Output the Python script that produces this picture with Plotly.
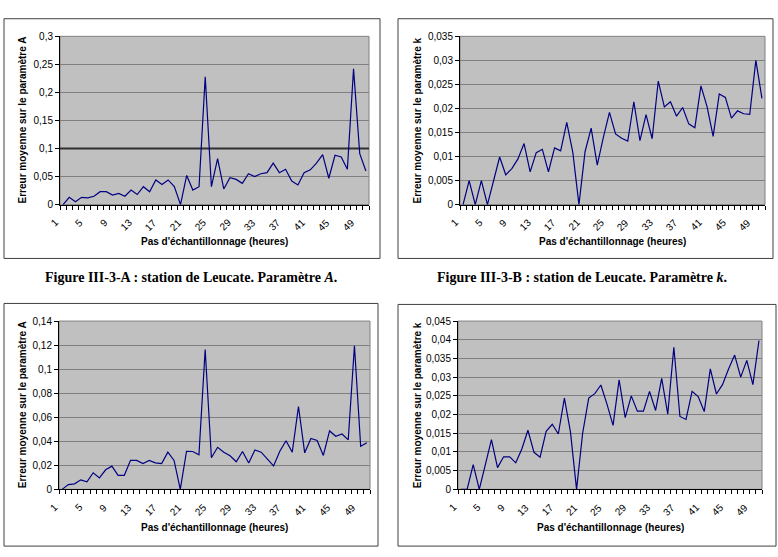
import plotly.graph_objects as go

W, H = 778, 557

# ---------------- data ----------------
steps = list(range(1, 51))  # Pas d'échantillonnage (heures)
x_tick_labels = [str(i) for i in range(1, 50, 4)]

err_A_leucate = [0, 0.013, 0.005, 0.013, 0.012, 0.015, 0.023, 0.023, 0.017, 0.02,
                 0.015, 0.026, 0.018, 0.032, 0.023, 0.044, 0.036, 0.044, 0.032, 0,
                 0.052, 0.026, 0.032, 0.228, 0.032, 0.082, 0.028, 0.048, 0.045, 0.038,
                 0.055, 0.05, 0.055, 0.057, 0.074, 0.057, 0.063, 0.042, 0.035, 0.057,
                 0.062, 0.074, 0.089, 0.047, 0.088, 0.085, 0.063, 0.242, 0.091, 0.06]

err_k_leucate = [0, 0.005, 0, 0.005, 0, 0.005, 0.0099, 0.0062, 0.0075, 0.0095,
                 0.0127, 0.0068, 0.0108, 0.0115, 0.0068, 0.0118, 0.0112, 0.0171, 0.0108, 0,
                 0.011, 0.0159, 0.0082, 0.014, 0.0192, 0.0147, 0.0138, 0.0132, 0.0214, 0.0133,
                 0.0187, 0.0137, 0.0257, 0.0203, 0.0214, 0.0184, 0.0202, 0.0168, 0.016, 0.0247,
                 0.0204, 0.0142, 0.023, 0.0223, 0.018, 0.0195, 0.0189, 0.0188, 0.03, 0.0221]

err_A_2 = [0, 0.004, 0.0046, 0.0079, 0.0062, 0.0138, 0.0095, 0.0163, 0.0193, 0.0117,
           0.0117, 0.0241, 0.0241, 0.0214, 0.0241, 0.022, 0.0214, 0.0309, 0.0241, 0,
           0.0317, 0.0315, 0.0288, 0.1164, 0.0263, 0.035, 0.0309, 0.028, 0.023, 0.0315,
           0.022, 0.0328, 0.0309, 0.0255, 0.0195, 0.0317, 0.0404, 0.0309, 0.0689, 0.0304,
           0.0423, 0.0407, 0.0282, 0.0486, 0.0442, 0.0461, 0.0412, 0.1194, 0.0358, 0.0388]

err_k_2 = [0, 0, 0.0066, 0, 0.0066, 0.0133, 0.0058, 0.0087, 0.0087, 0.0071,
           0.0108, 0.0158, 0.0099, 0.0086, 0.0155, 0.0174, 0.0148, 0.0244, 0.0153, 0,
           0.015, 0.0244, 0.0256, 0.0279, 0.0228, 0.0171, 0.0293, 0.0192, 0.025, 0.0209,
           0.0209, 0.0262, 0.0211, 0.0297, 0.0201, 0.038, 0.0195, 0.0187, 0.0262, 0.0248,
           0.0208, 0.0322, 0.0255, 0.028, 0.0322, 0.0359, 0.03, 0.0345, 0.028, 0.0398]

threshold_A = 0.1

y_ticks_A1 = [0, 0.05, 0.1, 0.15, 0.2, 0.25, 0.3]
y_ticks_k1 = [0, 0.005, 0.01, 0.015, 0.02, 0.025, 0.03, 0.035]
y_ticks_A2 = [0, 0.02, 0.04, 0.06, 0.08, 0.1, 0.12, 0.14]
y_ticks_k2 = [0, 0.005, 0.01, 0.015, 0.02, 0.025, 0.03, 0.035, 0.04, 0.045]

title_y_A = "Erreur moyenne sur le paramètre A"
title_y_k = "Erreur moyenne sur le paramètre k"
title_x = "Pas d'échantillonnage (heures)"
captions = ["Figure III-3-A : station de Leucate. Paramètre <i>A</i>.",
            "Figure III-3-B : station de Leucate. Paramètre <i>k</i>."]

# ---------------- layout helpers ----------------
def fx(px):
    return px / W

def fy(py):
    return 1 - py / H

def fmt(v):
    return ("%g" % v).replace(".", ",")

panels = [
    dict(pa=(60, 369, 31, 203), box=(4, 380, 13, 258), y=err_A_leucate, ticks=y_ticks_A1, yt=title_y_A, ytx=22, xty=241),
    dict(pa=(460, 765, 31, 203), box=(398, 773, 13, 258), y=err_k_leucate, ticks=y_ticks_k1, yt=title_y_k, ytx=417, xty=241),
    dict(pa=(59, 370, 322, 494), box=(4, 378, 304, 552), y=err_A_2, ticks=y_ticks_A2, yt=title_y_A, ytx=22, xty=533),
    dict(pa=(458, 762, 322, 494), box=(398, 776, 305, 552), y=err_k_2, ticks=y_ticks_k2, yt=title_y_k, ytx=417, xty=533),
]

FONT = "Liberation Sans, Arial, sans-serif"
fig = go.Figure()
shapes = []
annotations = []
layout = {}

for i, p in enumerate(panels, start=1):
    xa = "x" if i == 1 else "x%d" % i
    ya = "y" if i == 1 else "y%d" % i
    xk = "xaxis" if i == 1 else "xaxis%d" % i
    yk = "yaxis" if i == 1 else "yaxis%d" % i
    x0, x1, y0, y1 = p["pa"]

    if i == 1:
        fig.add_trace(go.Scatter(x=[steps[0] - 0.5, steps[-1] + 0.5], y=[threshold_A, threshold_A],
                                 mode="lines", line=dict(color="#303030", width=2),
                                 xaxis=xa, yaxis=ya, hoverinfo="skip", showlegend=False))
    fig.add_trace(go.Scatter(x=steps, y=p["y"], mode="lines",
                             line=dict(color="#000080", width=1.2),
                             xaxis=xa, yaxis=ya, showlegend=False))

    layout[xk] = dict(domain=[fx(x0), fx(x1)], anchor=ya, range=[0.5, 50.5],
                      tickmode="array", tickvals=[s - 0.5 for s in steps] + [steps[-1] + 0.5],
                      showticklabels=False,
                      ticks="outside", ticklen=4, tickcolor="black",
                      showgrid=False, zeroline=False,
                      showline=True, linecolor="black", linewidth=1,
                      fixedrange=True)
    layout[yk] = dict(domain=[fy(y1), fy(y0)], anchor=xa, range=[0, p["ticks"][-1]],
                      tickmode="array", tickvals=p["ticks"], ticktext=[fmt(v) for v in p["ticks"]],
                      ticks="outside", ticklen=4, tickcolor="black",
                      showgrid=True, gridcolor="#808080", gridwidth=1, zeroline=False,
                      showline=True, linecolor="black", linewidth=1,
                      tickfont=dict(family=FONT, size=10, color="black"), fixedrange=True)

    # rotated category labels
    for lab in x_tick_labels:
        annotations.append(dict(text=lab, xref=xa, yref="paper", x=int(lab), y=fy(y1 + 11),
                                xanchor="right", yanchor="top", textangle=-45, showarrow=False,
                                xshift=-1, borderpad=0,
                                font=dict(family=FONT, size=10, color="black")))

    # plot area border
    shapes.append(dict(type="rect", xref="paper", yref="paper",
                       x0=fx(x0), x1=fx(x1), y0=fy(y1), y1=fy(y0),
                       line=dict(color="#808080", width=1), layer="below"))
    # chart box
    bx0, bx1, by0, by1 = p["box"]
    shapes.append(dict(type="rect", xref="paper", yref="paper",
                       x0=fx(bx0), x1=fx(bx1), y0=fy(by1), y1=fy(by0),
                       line=dict(color="#404040", width=1)))
    # axis titles
    annotations.append(dict(text="<b>%s</b>" % p["yt"], xref="paper", yref="paper",
                            x=fx(p["ytx"]), y=fy((y0 + y1) / 2), textangle=-90, showarrow=False,
                            xanchor="center", yanchor="middle",
                            font=dict(family=FONT, size=10, color="black")))
    annotations.append(dict(text="<b>%s</b>" % title_x, xref="paper", yref="paper",
                            x=fx((x0 + x1) / 2), y=fy(p["xty"]), showarrow=False,
                            xanchor="center", yanchor="middle",
                            font=dict(family=FONT, size=10, color="black")))

for cap, cx in zip(captions, [191, 582]):
    annotations.append(dict(text="<b>%s</b>" % cap, xref="paper", yref="paper",
                            x=fx(cx), y=fy(277), showarrow=False, xanchor="center", yanchor="middle",
                            font=dict(family="Liberation Serif, Times New Roman, serif", size=14, color="black")))

fig.update_layout(width=W, height=H, margin=dict(l=0, r=0, t=0, b=0),
                  paper_bgcolor="white", plot_bgcolor="#C0C0C0",
                  shapes=shapes, annotations=annotations, showlegend=False,
                  **layout)

fig.write_html("out.html", config={"displayModeBar": False})
